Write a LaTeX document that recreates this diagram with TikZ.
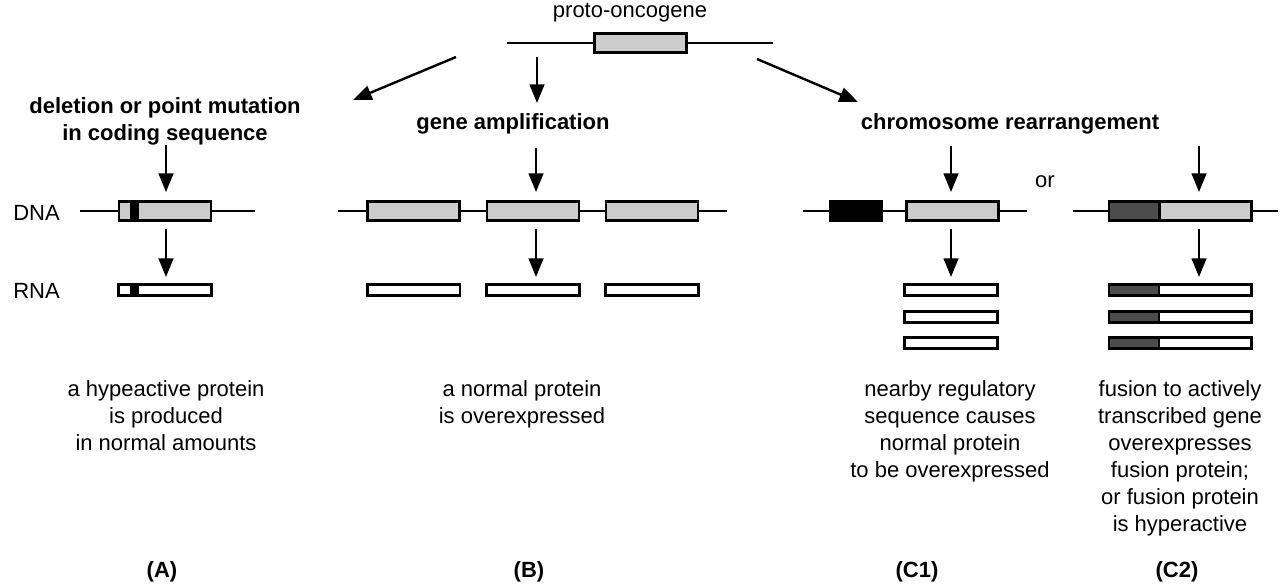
\documentclass[tikz,border=0pt]{standalone}
\usepackage{fontspec}
\setmainfont{Liberation Sans}
\usetikzlibrary{arrows.meta}

\definecolor{genegray}{gray}{0.8}
\definecolor{fusegray}{gray}{0.3}

\tikzset{
    txt/.style={inner sep=0pt, font=\fontsize{16.5pt}{20.25pt}\selectfont},
    btxt/.style={txt, font=\fontsize{16.5pt}{20.25pt}\selectfont\bfseries},
    gene/.style={draw, fill=genegray, line width=2pt, minimum width=69pt, minimum height=14.5pt, inner sep=0pt},
    rna/.style={draw, fill=white, line width=2pt, minimum width=69.5pt, minimum height=8.5pt, inner sep=0pt},
    dna/.style={line width=1.9pt},
    arr/.style={line width=1.8pt, -{Triangle[length=14pt,width=11pt]}}
}

\begin{document}
\begin{tikzpicture}[x=0.75pt, y=-0.75pt]
    \useasboundingbox (0,0) rectangle (1280,583);

    % proto-oncogene
    \node[txt, anchor=base] (proto) at (630,17) {proto-oncogene};
    \draw[dna] (507,43) -- (773,43);
    \node[gene] (protobox) at (640.5,43) {};

    \coordinate (l0) at (456,57);
    \coordinate (l1) at (353,100);
    \coordinate (m0) at (537,57);
    \coordinate (m1) at (537,103);
    \coordinate (r0) at (757,59);
    \coordinate (r1) at (858,102);
    \draw[arr] (l0) -- (l1);
    \draw[arr] (m0) -- (m1);
    \draw[arr] (r0) -- (r1);

    % headings
    \node[btxt, anchor=north, align=center] (labA) at (165,97) {deletion or point mutation\\in coding sequence};
    \node[btxt, anchor=north] (labB) at (513,113) {gene amplification};
    \node[btxt, anchor=north] (labC) at (1010,113) {chromosome rearrangement};
    \node[txt, anchor=base] (or) at (1045,187) {or};

    \node[txt, anchor=base west] (dnalab) at (13,220) {DNA};
    \node[txt, anchor=base west] (rnalab) at (13,298) {RNA};

    % (A) point mutation
    \draw[dna] (80,211) -- (255,211);
    \node[gene] (geneA) at (165,211) {};
    \node[fill=black, inner sep=0pt, minimum width=6.75pt, minimum height=14.5pt] (mutA) at (134.5,211) {};
    \node[rna] (rnaA) at (165,290) {};
    \node[fill=black, inner sep=0pt, minimum width=6.75pt, minimum height=8.5pt] (mutArna) at (134.5,290) {};

    % (B) amplification
    \draw[dna] (338,211) -- (727,211);
    \node[gene] (ampB1) at (413.5,211) {};
    \node[gene] (ampB2) at (533,211) {};
    \node[gene] (ampB3) at (652,211) {};
    \node[rna] (rnaB1) at (413.5,290) {};
    \node[rna] (rnaB2) at (533,290) {};
    \node[rna] (rnaB3) at (652,290) {};

    % (C1) regulatory sequence nearby
    \draw[dna] (803,211) -- (1027,211);
    \node[draw, fill=black, line width=2pt, minimum width=38.5pt, minimum height=14.5pt, inner sep=0pt] (regC) at (856,211) {};
    \node[gene] (geneC) at (952.5,211) {};
    \node[rna] (rnaC1) at (951,290) {};
    \node[rna] (rnaC2) at (951,317) {};
    \node[rna] (rnaC3) at (951,343) {};

    % (C2) fusion
    \draw[dna] (1073,211) -- (1278,211);
    \node[draw, fill=fusegray, line width=2pt, minimum width=37.3pt, minimum height=14.5pt, inner sep=0pt] (fusD) at (1134,211) {};
    \node[gene] (fusG) at (1205.3,211) {};
    \foreach \y/\n in {290/1, 317/2, 343/3} {
        \node[draw, fill=fusegray, line width=2pt, minimum width=37.3pt, minimum height=8.5pt, inner sep=0pt] (fusRd\n) at (1134,\y) {};
        \node[rna] (fusRw\n) at (1205.3,\y) {};
    }

    % arrows down
    \coordinate (aIn) at (166,145);
    \coordinate (bIn) at (536,148);
    \coordinate (cIn) at (951,146);
    \coordinate (dIn) at (1199,146);
    \draw[arr, shorten >=6pt] (aIn) -- (aIn |- geneA.north);
    \draw[arr, shorten >=6pt] (bIn) -- (bIn |- ampB2.north);
    \draw[arr, shorten >=6pt] (cIn) -- (cIn |- geneC.north);
    \draw[arr, shorten >=6pt] (dIn) -- (dIn |- fusG.north);
    \draw[arr, shorten <=5.25pt, shorten >=4.5pt] (aIn |- geneA.south) -- (aIn |- rnaA.north);
    \draw[arr, shorten <=5.25pt, shorten >=4.5pt] (bIn |- ampB2.south) -- (bIn |- rnaB2.north);
    \draw[arr, shorten <=5.25pt, shorten >=4.5pt] (cIn |- geneC.south) -- (cIn |- rnaC1.north);
    \draw[arr, shorten <=5.25pt, shorten >=4.5pt] (dIn |- fusG.south) -- (dIn |- fusRw1.north);

    % outcomes
    \node[txt, anchor=north, align=center] (outA) at (166,380) {a hypeactive protein\\is produced\\in normal amounts};
    \node[txt, anchor=north, align=center] (outB) at (522,380) {a normal protein\\is overexpressed};
    \node[txt, anchor=north, align=center] (outC1) at (950,380) {nearby regulatory\\sequence causes\\normal protein\\to be overexpressed};
    \node[txt, anchor=north, align=center] (outC2) at (1180,380) {fusion to actively\\transcribed gene\\overexpresses\\fusion protein;\\or fusion protein\\is hyperactive};

    \node[btxt, anchor=base] (tagA) at (162,577) {(A)};
    \node[btxt, anchor=base] (tagB) at (529,577) {(B)};
    \node[btxt, anchor=base] (tagC1) at (917,577) {(C1)};
    \node[btxt, anchor=base] (tagC2) at (1177,577) {(C2)};

\end{tikzpicture}
\end{document}
